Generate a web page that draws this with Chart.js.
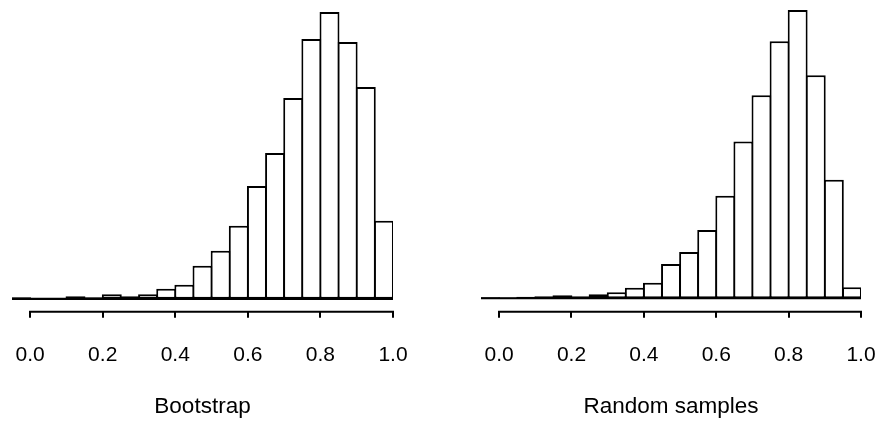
<!DOCTYPE html>
<html><head><meta charset="utf-8">
<script src="https://cdn.jsdelivr.net/npm/chart.js@4"></script>
<style>
html,body{margin:0;padding:0;background:#fff;}
#wrap{position:relative;width:878px;height:421px;overflow:hidden;}
canvas{position:absolute;top:0;}
#left{left:0;}
#right{left:440px;}
</style></head><body>
<div id="wrap">
<canvas id="left" width="440" height="421"></canvas>
<canvas id="right" width="438" height="421"></canvas>
</div>
<script>
// Histogram bins (left edges), width 0.05
const binStarts = [-0.05, 0.00, 0.05, 0.10, 0.15, 0.20, 0.25, 0.30, 0.35, 0.40, 0.45,
                   0.50, 0.55, 0.60, 0.65, 0.70, 0.75, 0.80, 0.85, 0.90, 0.95];
const binWidth = 0.05;
// Bar heights (relative counts)
const bootstrapCounts = [1.5, 0.5, 0.5, 2.5, 1.5, 4.5, 2.5, 4.5, 10, 14, 33,
                         48, 73, 113, 146, 201, 260, 287, 257, 212, 78];
const randomCounts = [1, 0.7, 1.5, 2, 3, 2, 4, 6, 10.5, 15.5, 34,
                      46, 68, 102, 156, 202, 256, 287, 222, 118, 11];
const tickValues = [0.0, 0.2, 0.4, 0.6, 0.8, 1.0];
const panelTitles = ['Bootstrap', 'Random samples'];

const FONT = "'Liberation Sans', Arial, Helvetica, sans-serif";

const histAxes = {
  id: 'histAxes',
  afterDatasetsDraw(chart) {
    const {ctx, scales: {x, y}} = chart;
    ctx.save();
    ctx.strokeStyle = '#000';
    ctx.lineCap = 'butt';
    // baseline under the bars
    const y0 = y.getPixelForValue(0);
    ctx.lineWidth = 2.2;
    ctx.beginPath();
    ctx.moveTo(x.getPixelForValue(binStarts[0]), y0);
    ctx.lineTo(x.getPixelForValue(binStarts[binStarts.length - 1] + binWidth), y0);
    ctx.stroke();
    // separate axis line from first to last tick
    ctx.lineWidth = 2;
    const ay = x.top + 1;
    ctx.beginPath();
    ctx.moveTo(x.getPixelForValue(tickValues[0]) - 1, ay);
    ctx.lineTo(x.getPixelForValue(tickValues[tickValues.length - 1]) + 1, ay);
    ctx.stroke();
    ctx.restore();
  }
};

function makeChart(id, counts, title, pad, yMax, yMin) {
  const data = binStarts.map((b, i) => ({x: b + binWidth / 2, y: counts[i]}));
  return new Chart(document.getElementById(id), {
    type: 'bar',
    data: {
      datasets: [{
        data: data,
        backgroundColor: '#fff',
        borderColor: '#000',
        borderWidth: 2,
        borderSkipped: false,
        barPercentage: 1.1,
        categoryPercentage: 1.0
      }]
    },
    options: {
      responsive: false,
      animation: false,
      events: [],
      layout: {padding: pad},
      plugins: {legend: {display: false}, tooltip: {enabled: false}},
      scales: {
        x: {
          type: 'linear',
          min: binStarts[0],
          max: 1.0,
          offset: false,
          afterBuildTicks: (s) => { s.ticks = tickValues.map(v => ({value: v})); },
          afterFit: (s) => { s.paddingLeft = 0; s.paddingRight = 0; },
          border: {display: false},
          grid: {
            display: true, offset: false, drawOnChartArea: false, drawTicks: true,
            tickLength: 7, tickWidth: 2, tickColor: '#000', color: '#000', lineWidth: 2
          },
          ticks: {
            autoSkip: false, maxRotation: 0, padding: 25, color: '#000',
            font: {family: FONT, size: 21},
            callback: (v) => Number(v).toFixed(1)
          },
          title: {
            display: true, text: title, color: '#000',
            font: {family: FONT, size: 22.5},
            padding: {top: 0, bottom: 0}
          }
        },
        y: {display: false, min: yMin, max: yMax}
      }
    },
    plugins: [histAxes]
  });
}

makeChart('left', bootstrapCounts, panelTitles[0], {left: 12, right: 47, top: 10, bottom: 1}, 289, -12);
makeChart('right', randomCounts, panelTitles[1], {left: 41, right: 17, top: 10, bottom: 1}, 287, -12.5);
</script>
</body></html>
